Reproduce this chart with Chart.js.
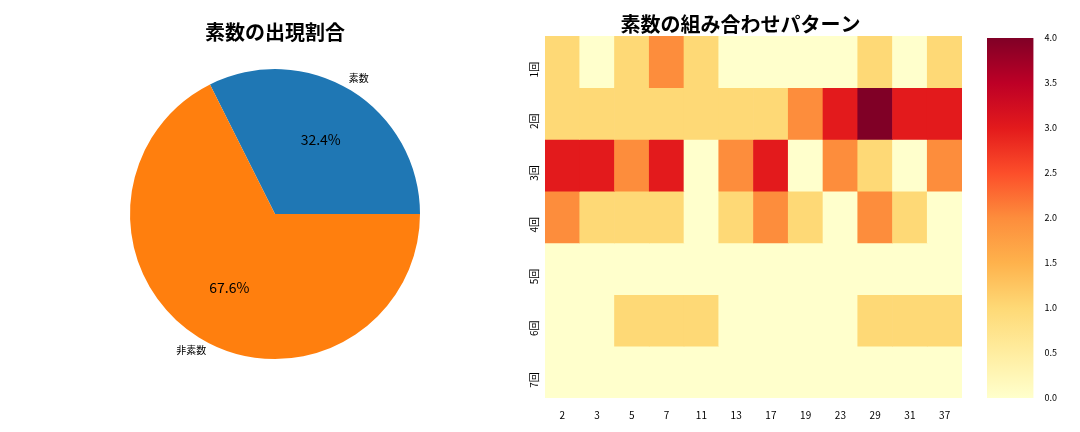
<!DOCTYPE html>
<html><head><meta charset="utf-8">
<script src="https://cdn.jsdelivr.net/npm/chart.js@4/dist/chart.umd.min.js"></script>
<style>
body{margin:0;width:1080px;height:432px;background:#fff;position:relative;overflow:hidden;font-family:"Noto Sans CJK JP",sans-serif}
.c{position:absolute;top:0;height:432px}
</style></head><body>
<div class="c" style="left:0;width:550px"><canvas id="pie"></canvas></div>
<div class="c" style="left:490px;width:480px"><canvas id="heat"></canvas></div>
<div class="c" style="left:970px;width:90px"><canvas id="bar"></canvas></div>
<script>
const FONT = '"Noto Sans CJK JP", sans-serif';
const pieLabels = ['素数', '非素数'];
const pieValues = [32.4, 67.6];
const pieColors = ['#1f77b4', '#ff7f0e'];

const primes = ['2', '3', '5', '7', '11', '13', '17', '19', '23', '29', '31', '37'];
const rowLabels = ['1回', '2回', '3回', '4回', '5回', '6回', '7回'];
const counts = [
  [1, 0, 1, 2, 1, 0, 0, 0, 0, 1, 0, 1],
  [1, 1, 1, 1, 1, 1, 1, 2, 3, 4, 3, 3],
  [3, 3, 2, 3, 0, 2, 3, 0, 2, 1, 0, 2],
  [2, 1, 1, 1, 0, 1, 2, 1, 0, 2, 1, 0],
  [0, 0, 0, 0, 0, 0, 0, 0, 0, 0, 0, 0],
  [0, 0, 1, 1, 1, 0, 0, 0, 0, 1, 1, 1],
  [0, 0, 0, 0, 0, 0, 0, 0, 0, 0, 0, 0],
];
const vmax = 4;
const stops = ['#ffffcc', '#ffeda0', '#fed976', '#feb24c', '#fd8d3c', '#fc4e2a', '#e31a1c', '#bd0026', '#800026'];

function hex(c) { return [1, 3, 5].map(i => parseInt(c.slice(i, i + 2), 16)); }
function cmap(v) {
  const t = Math.max(0, Math.min(1, v / vmax)) * (stops.length - 1);
  const i = Math.min(Math.floor(t), stops.length - 2), f = t - i;
  const a = hex(stops[i]), b = hex(stops[i + 1]);
  return 'rgb(' + a.map((x, k) => Math.round(x + (b[k] - x) * f)).join(',') + ')';
}
const titleOpt = (text, bottom) => ({ display: true, text, color: '#000', font: { family: FONT, size: 20, weight: 'bold' }, padding: { top: 12, bottom } });

// pie labels
const pieText = {
  id: 'pieText',
  afterDatasetsDraw(chart) {
    const ctx = chart.ctx;
    chart.getDatasetMeta(0).data.forEach((arc, i) => {
      const mid = (arc.startAngle + arc.endAngle) / 2;
      ctx.save();
      ctx.fillStyle = '#000';
      ctx.textAlign = 'center'; ctx.textBaseline = 'middle';
      ctx.font = '14px ' + FONT;
      const r1 = arc.outerRadius * 0.6;
      ctx.fillText(pieValues[i].toFixed(1) + '%', arc.x + Math.cos(mid) * r1, arc.y + Math.sin(mid) * r1);
      ctx.font = '10px ' + FONT;
      const r2 = arc.outerRadius * 1.1;
      ctx.fillText(pieLabels[i], arc.x + Math.cos(mid) * r2, arc.y + Math.sin(mid) * r2);
      ctx.restore();
    });
  }
};
new Chart(document.getElementById('pie'), {
  type: 'pie',
  data: { labels: pieLabels, datasets: [{ data: pieValues, backgroundColor: pieColors, borderWidth: 0 }] },
  options: {
    responsive: true, maintainAspectRatio: false, animation: false, rotation: -26.64,
    layout: { padding: { left: 130, right: 130, top: 8, bottom: 68 } },
    plugins: { legend: { display: false }, tooltip: { enabled: false }, title: titleOpt('素数の出現割合', 20) }
  },
  plugins: [pieText]
});

// heatmap as floating bars
const heatSets = counts.map((row, r) => ({
  data: row.map(() => [r + 0.5, r + 1.5]),
  backgroundColor: row.map(cmap),
  borderWidth: 0, barPercentage: 1, categoryPercentage: 1, grouped: false
}));
new Chart(document.getElementById('heat'), {
  type: 'bar',
  data: { labels: primes, datasets: heatSets },
  options: {
    responsive: true, maintainAspectRatio: false, animation: false,
    layout: { padding: { left: 29, right: 8, bottom: 8 } },
    plugins: { legend: { display: false }, tooltip: { enabled: false }, title: titleOpt('素数の組み合わせパターン', 0) },
    scales: {
      x: { grid: { display: false }, border: { display: false }, ticks: { color: '#000', font: { family: FONT, size: 10 }, maxRotation: 0 } },
      y: {
        min: 0.5, max: 7.5, reverse: true, grid: { display: false }, border: { display: false },
        afterBuildTicks: (ax) => { ax.ticks = rowLabels.map((_, i) => ({ value: i + 1 })); },
        ticks: { color: '#000', font: { family: FONT, size: 10 }, minRotation: 90, maxRotation: 90, callback: (v) => rowLabels[v - 1] }
      }
    }
  }
});

// colorbar
const cb = {
  id: 'cb',
  beforeDatasetsDraw(chart) {
    const { ctx, chartArea: a } = chart;
    const g = ctx.createLinearGradient(0, a.bottom, 0, a.top);
    stops.forEach((s, i) => g.addColorStop(i / (stops.length - 1), s));
    chart.getDatasetMeta(0).data[0].options.backgroundColor = g;
  }
};
new Chart(document.getElementById('bar'), {
  type: 'bar',
  data: { labels: [''], datasets: [{ data: [[0, vmax]], backgroundColor: '#fff', borderWidth: 0, barPercentage: 1, categoryPercentage: 1 }] },
  options: {
    responsive: true, maintainAspectRatio: false, animation: false,
    layout: { padding: { left: 17, top: 38, bottom: 34, right: 0 } },
    plugins: { legend: { display: false }, tooltip: { enabled: false } },
    scales: {
      x: { display: false },
      y: { position: 'right', min: 0, max: vmax, grid: { display: false }, border: { display: false },
        ticks: { stepSize: 0.5, color: '#000', font: { family: FONT, size: 9 }, callback: (v) => v.toFixed(1) } }
    }
  },
  plugins: [cb]
});
</script>
</body></html>
